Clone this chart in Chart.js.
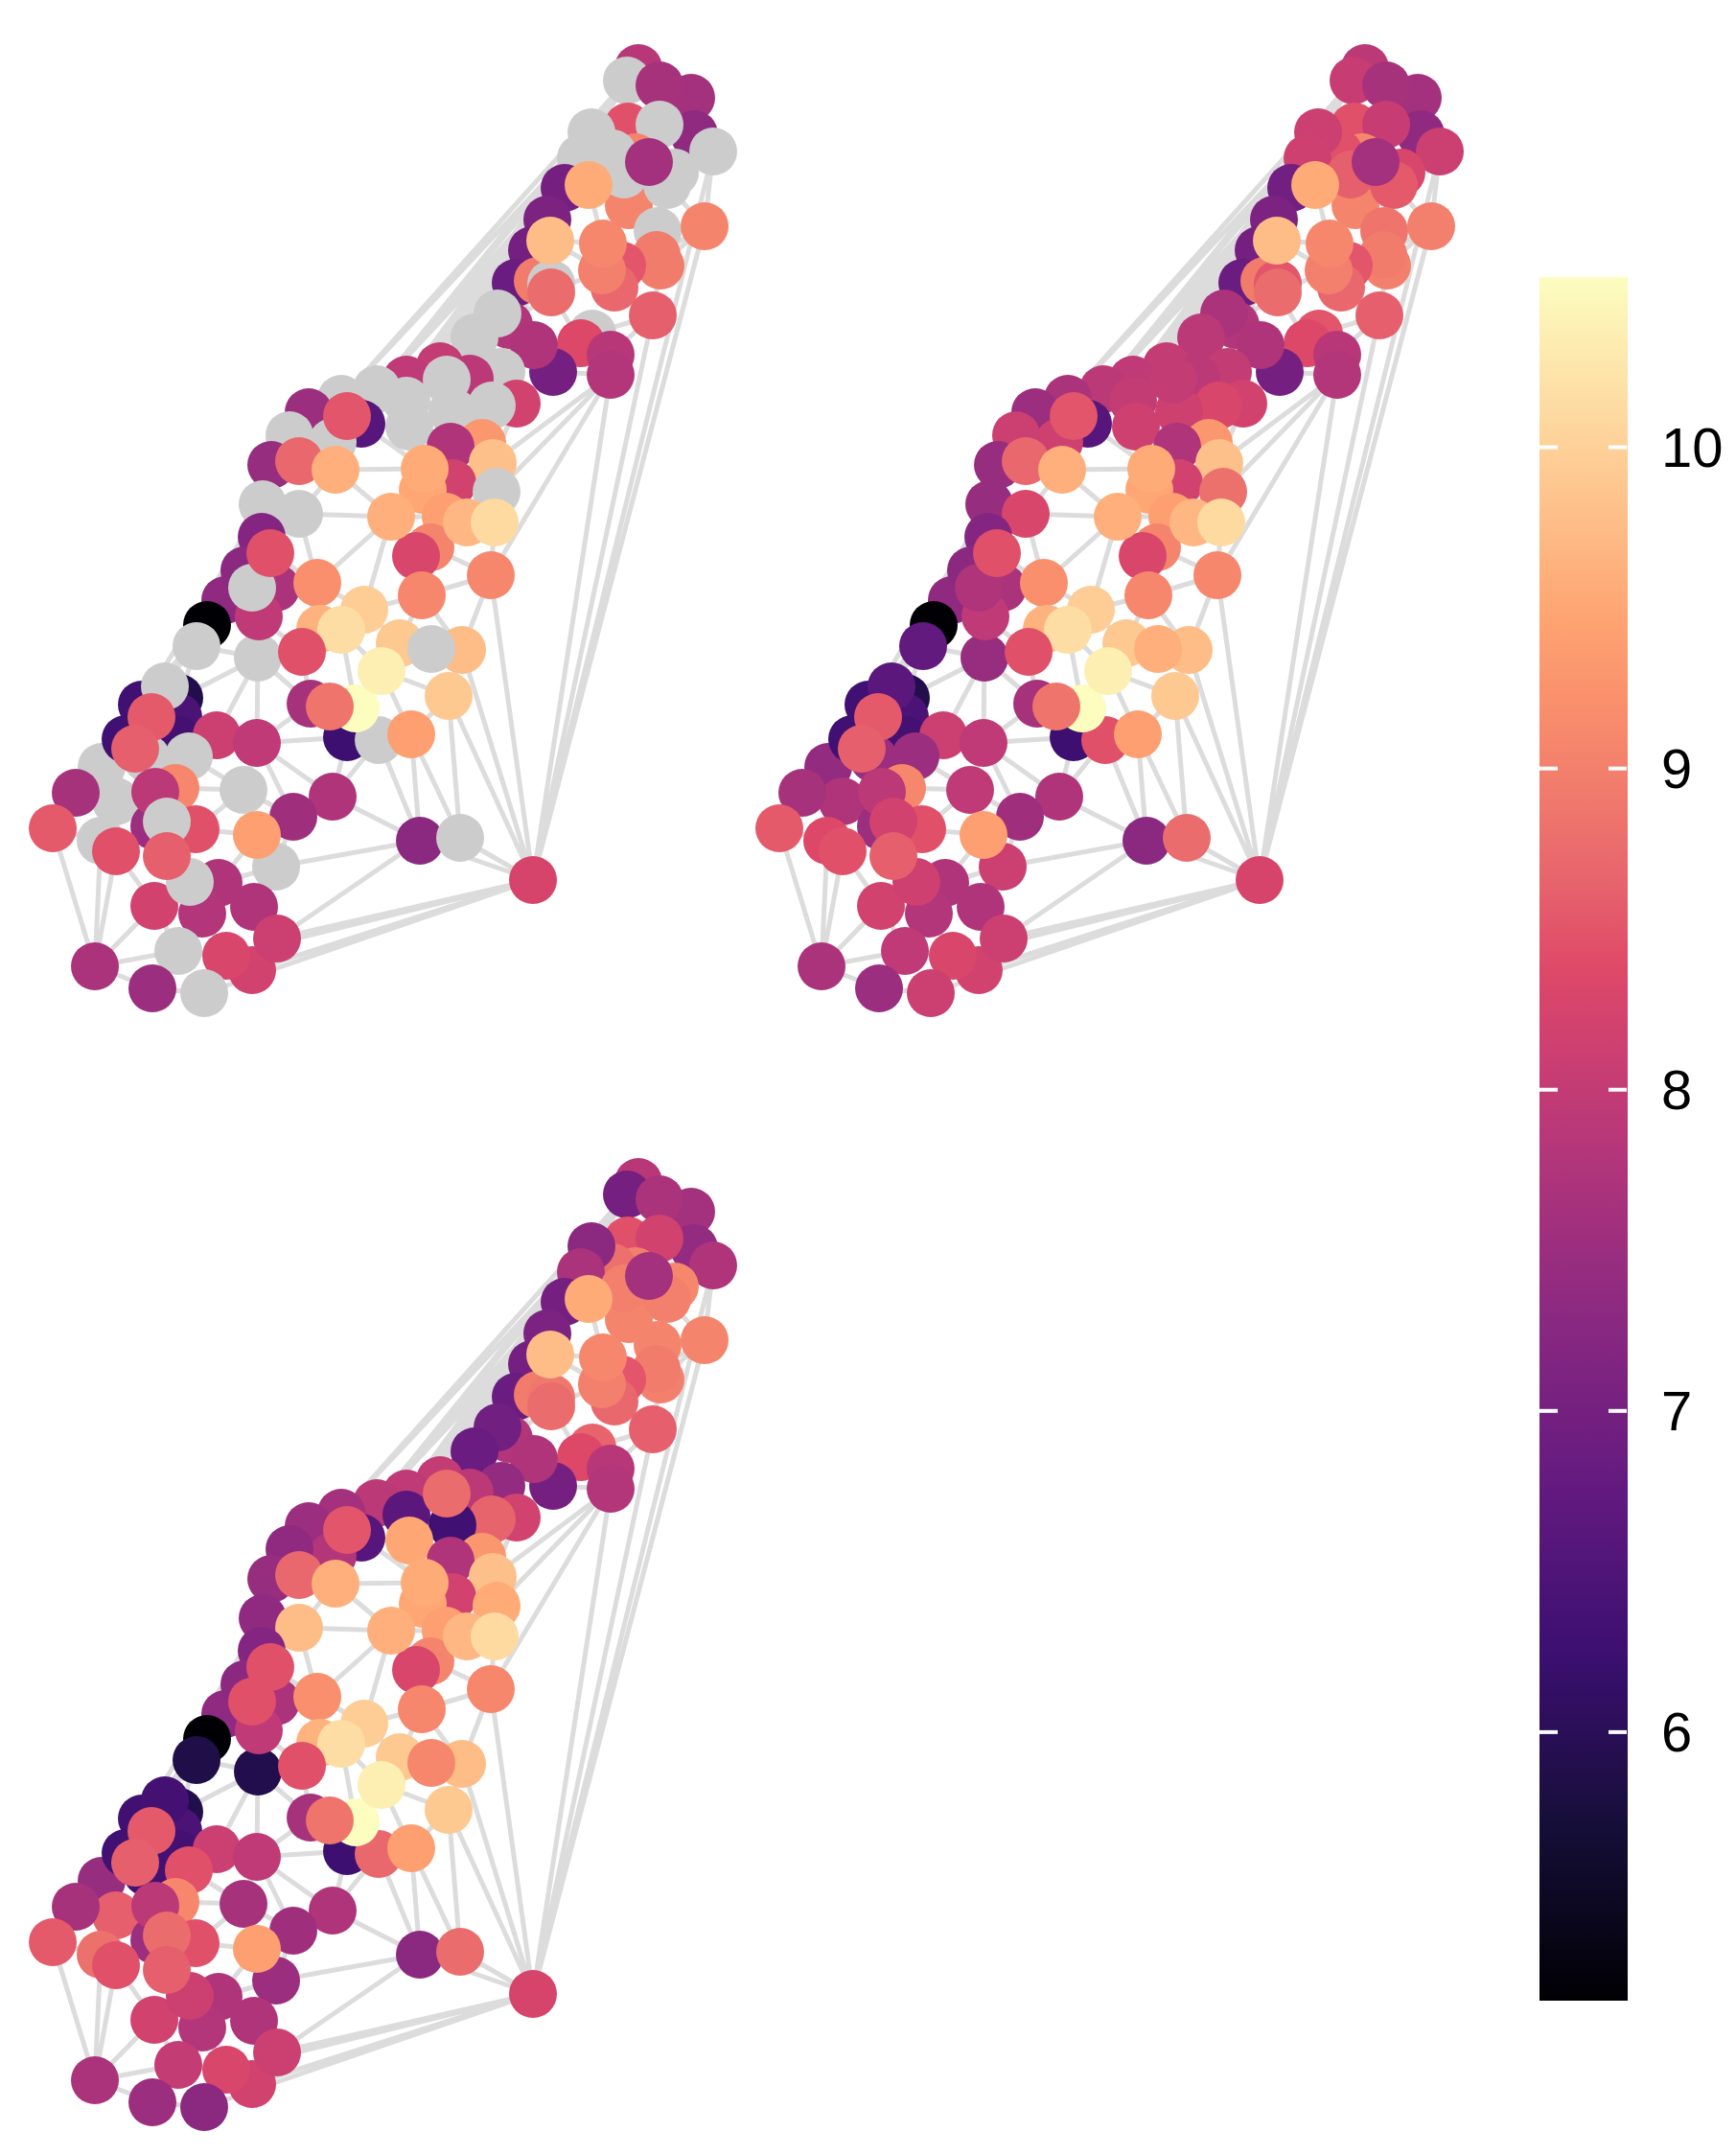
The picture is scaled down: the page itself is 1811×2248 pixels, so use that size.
<!DOCTYPE html>
<html>
<head>
<meta charset="utf-8">
<title>Network panels</title>
<script src="https://cdn.jsdelivr.net/npm/chart.js@4/dist/chart.umd.js"></script>
<style>
    html, body { margin: 0; padding: 0; background: #fff; }
    #page { position: relative; width: 1811px; height: 2248px; overflow: hidden; }
    canvas { position: absolute; }
</style>
</head>
<body>
<div id="page">
    <canvas id="panelA" width="785" height="1085" style="left:0;top:0"></canvas>
    <canvas id="panelB" width="785" height="1085" style="left:758px;top:0"></canvas>
    <canvas id="panelC" width="785" height="1085" style="left:0;top:1162px"></canvas>
    <canvas id="colorBar" width="205" height="1880" style="left:1606px;top:250px"></canvas>
</div>
<script>
// Layout of the network nodes, index 0 is unused so ids stay 1-based
const nodeX = [null,
    666,654,688,721,724,655,688,617,744,606,639,663,704,651,696,589,614,677,656,571,
    574,686,735,629,555,649,685,689,628,538,561,575,575,641,681,618,606,519,531,557,
    495,637,637,577,523,459,424,490,466,393,356,322,424,539,513,472,377,362,302,347,
    427,503,470,283,312,350,514,443,472,441,518,408,465,487,516,274,312,273,449,434,
    282,255,331,512,440,235,288,263,380,270,216,334,356,417,205,269,315,482,450,398,
    172,187,148,468,324,344,371,158,186,226,268,131,186,362,395,429,141,197,106,153,
    183,79,162,121,254,347,306,204,161,55,105,174,268,438,480,121,174,288,228,198,
    556,161,211,265,289,186,236,263,99,159,213];
const nodeY = [null,
    71,84,89,102,140,132,130,138,158,165,160,164,180,182,193,196,193,169,214,229,
    251,241,236,254,261,277,266,277,282,295,293,296,305,300,329,348,358,327,339,360,
    352,370,391,388,388,382,396,395,396,406,416,430,418,421,423,429,442,434,454,461,
    445,462,466,485,481,490,483,489,504,511,513,539,539,545,545,526,536,560,571,580,
    577,595,608,600,621,626,613,613,636,643,652,656,657,671,674,686,680,678,677,700,
    716,728,735,726,734,737,739,748,748,767,775,771,772,769,772,766,781,789,800,791,
    822,827,826,836,824,831,852,865,862,864,877,857,871,877,874,888,893,904,921,920,
    918,945,953,946,979,992,997,1012,1008,1031,1036];

// null means no value in that panel (drawn grey)
const valuesA = [null,
    7.85,null,7.65,7.6,7.35,8.45,null,null,null,null,null,9.05,null,null,null,7.0,9.55,7.6,9.05,7.1,
    9.75,null,9.05,9.1,7.0,8.5,8.95,8.95,9.0,6.85,8.95,null,8.75,8.7,8.6,null,8.35,null,7.8,7.75,
    null,7.85,7.8,7.0,null,8.0,7.95,7.9,null,null,null,7.5,null,8.2,null,null,6.6,8.5,null,null,
    null,9.3,7.75,7.45,8.7,9.6,9.8,9.55,8.2,9.5,null,9.6,9.4,9.7,10.1,null,null,7.2,9.05,8.3,
    8.45,7.3,9.2,9.1,9.1,7.35,7.7,null,9.95,7.95,5.16,9.65,10.15,9.9,null,null,8.45,9.75,null,10.35,
    null,5.9,6.3,9.9,7.65,8.85,10.53,8.55,6.45,8.1,7.95,6.3,6.35,6.25,null,9.4,8.6,null,null,null,
    9.1,7.65,7.9,null,null,7.75,7.55,8.45,7.5,8.55,null,null,9.4,7.3,null,8.45,8.6,null,7.75,null,
    8.25,8.2,7.8,7.75,8.1,null,8.3,8.2,7.7,7.5,null];
const valuesB = [null,
    7.9,8.05,7.65,7.6,7.35,8.45,8.05,8.1,8.1,8.15,8.45,9.1,8.3,8.6,8.55,6.95,9.55,7.6,9.05,7.1,
    9.75,8.85,9.0,9.1,7.0,8.5,8.95,9.0,9.0,6.85,8.95,8.5,8.75,8.7,8.6,8.5,8.35,7.7,7.8,7.75,
    7.9,7.85,7.8,7.0,8.0,8.0,7.95,7.9,8.0,7.9,7.7,7.5,8.0,8.2,8.3,8.15,6.6,8.5,8.1,8.15,
    8.15,9.3,7.75,7.45,8.7,9.6,9.8,9.55,8.2,9.5,8.8,9.6,9.4,9.7,10.1,7.45,8.3,7.2,9.05,8.3,
    8.45,7.3,9.2,9.1,9.1,7.35,7.7,7.75,9.95,7.95,5.16,9.65,10.15,9.9,6.75,7.45,8.45,9.75,9.6,10.35,
    6.65,5.9,6.3,9.9,7.65,8.85,10.53,8.55,6.45,8.1,7.95,6.3,6.35,6.25,8.45,9.4,8.6,7.5,7.4,7.5,
    9.1,7.65,7.9,7.75,7.95,7.75,7.55,8.45,7.5,8.55,8.35,8.2,9.4,7.3,8.75,8.45,8.6,8.1,7.75,8.15,
    8.25,8.2,7.8,7.75,8.1,7.95,8.3,8.2,7.7,7.5,8.1];
const valuesC = [null,
    7.85,7.0,7.7,7.6,7.4,8.45,8.2,7.3,7.75,7.7,8.8,9.0,9.1,9.0,9.0,7.0,9.55,7.6,9.05,7.1,
    9.75,9.05,9.05,9.1,7.0,8.5,8.95,9.0,9.0,6.85,8.95,8.9,8.75,8.7,8.6,8.65,8.35,6.95,7.8,7.75,
    6.85,7.85,7.8,7.0,7.4,8.0,7.95,7.9,8.75,7.9,7.6,7.5,6.65,8.2,8.65,6.3,6.6,8.5,7.35,7.8,
    9.5,9.3,7.75,7.45,8.7,9.6,9.8,9.55,8.2,9.5,9.55,9.6,9.4,9.7,10.1,7.35,9.75,7.2,9.05,8.3,
    8.45,7.3,9.2,9.1,9.1,7.35,7.7,8.45,9.95,7.95,5.16,9.65,10.15,9.9,5.85,5.9,8.45,9.75,9.1,10.35,
    6.35,5.9,6.3,9.9,7.65,8.85,10.53,8.55,6.45,8.1,7.95,6.3,6.35,6.25,8.7,9.4,8.6,8.45,7.45,6.35,
    9.1,7.65,7.9,8.6,7.65,7.75,7.55,8.45,7.5,8.55,8.8,8.75,9.4,7.3,8.75,8.45,8.6,7.5,7.75,8.1,
    8.25,8.2,7.8,7.75,8.1,8.0,8.3,8.2,7.7,7.5,7.3];

// Order the nodes are painted in, later ones sit on top
const drawOrder = [
    1,2,4,3,5,6,7,12,11,8,10,9,13,19,14,15,16,20,22,28,27,25,30,31,32,33,26,34,29,24,23,21,17,18,
    35,36,37,39,38,41,44,40,42,43,46,47,50,51,45,48,54,55,53,56,49,52,57,60,61,58,59,64,65,62,63,
    66,67,69,70,68,71,73,79,80,74,75,72,76,77,78,86,82,87,96,90,88,81,83,84,85,89,92,93,94,98,99,
    97,91,95,102,103,109,113,119,120,124,112,101,108,117,110,111,114,115,107,105,106,116,104,100,
    118,121,129,122,123,128,130,131,139,143,142,140,132,136,137,125,126,127,138,133,134,135,144,
    146,148,147,145,149,150,151,141];

const edges = [
    [2,51],[2,50],[8,50],[8,47],[10,50],[10,47],[16,46],[20,46],[25,46],[30,41],[30,46],[25,41],[20,41],[10,46],[8,51],[2,8],[2,10],[16,47],
    [2,47],[8,46],[10,45],[16,50],[20,47],[20,45],[25,47],[25,45],[30,47],[30,45],[16,38],[16,41],
    [51,52],[52,59],[59,64],[64,76],[76,78],[78,86],[78,101],[82,101],[86,101],[86,103],[76,101],[76,103],
    [4,9],[9,23],[9,15],[23,15],[23,27],[23,28],[9,141],[23,141],[35,141],[43,141],[84,141],[98,141],[104,141],[135,141],[134,141],[145,141],[147,141],[148,141],[151,141],
    [43,67],[43,71],[43,84],[84,75],[84,79],[84,85],[84,98],[85,98],[85,89],[85,80],[72,83],[72,89],[77,83],[66,68],[66,72],[72,77],[57,68],[66,77],
    [17,24],[21,24],[21,29],[33,29],[33,39],[33,37],[36,35],[35,42],[35,28],[37,40],[40,44],[44,42],[44,43],[42,43],[54,67],[54,62],[67,71],[71,75],[75,74],
    [65,66],[66,60],[68,61],[68,63],[68,70],[70,72],[72,73],[69,71],[29,34],[34,35],[24,19],[19,17],[19,22],[22,27],[28,34],
    [79,80],[80,85],[79,84],[83,92],[83,89],[83,97],[81,83],[87,83],[89,94],[89,93],[94,85],[98,104],[98,94],[100,104],[100,116],[104,116],[93,100],[93,107],
    [97,105],[96,105],[96,102],[96,111],[96,110],[96,97],[95,96],[95,91],[95,102],[90,97],[90,96],[111,105],[111,114],[111,126],[111,127],[126,114],[126,115],
    [126,134],[115,134],[116,134],[116,135],[104,135],[134,138],[134,145],[149,130],[149,131],[149,136],[149,142],[149,146],[149,150],[136,142],[130,122],[130,131],
    [121,125],[118,125],[128,125],[128,133],[133,138],[133,139],[138,139],[127,138],[125,111],[125,127],[138,144],[144,145],[143,147],[146,147],[150,151],[151,147],
    [146,142],[146,143],[142,143],[105,114],[101,102],[102,110],[114,115],[115,116],[139,143],[140,137],[142,136]
];

const barMin = 5.164;
const barMax = 10.53;
const barTicks = [6, 7, 8, 9, 10];

// Colour ramp
const rampAt = [0, 0.1, 0.2, 0.3, 0.4, 0.5, 0.55, 0.6, 0.65, 0.7, 0.75, 0.8, 0.9, 1];
const rampColors = ['#000004','#150E38','#3B0F70','#641A80','#8C2981','#B73779','#CC3F71','#DF4968','#E7646D','#F07A6C','#F98E6C','#FEA371','#FED098','#FCFDBF'];
const missingColor = '#CCCCCC';
const edgeColor = '#DCDCDC';

function hexToRgb(hex) {
    return [1, 3, 5].map(i => parseInt(hex.slice(i, i + 2), 16));
}

function magma(value) {
    const t = Math.min(1, Math.max(0, (value - barMin) / (barMax - barMin)));
    let i = 0;
    while (i < rampAt.length - 2 && t > rampAt[i + 1]) i++;
    const f = (t - rampAt[i]) / (rampAt[i + 1] - rampAt[i]);
    const a = hexToRgb(rampColors[i]);
    const b = hexToRgb(rampColors[i + 1]);
    const c = a.map((v, k) => Math.round(v + (b[k] - v) * f));
    return `rgb(${c[0]}, ${c[1]}, ${c[2]})`;
}

function drawPanel(canvasId, values) {
    // Edges go in one dataset, a null point breaks the path between them
    const edgePoints = [];
    edges.forEach(([from, to]) => {
        edgePoints.push({ x: nodeX[from], y: nodeY[from] });
        edgePoints.push({ x: nodeX[to], y: nodeY[to] });
        edgePoints.push({ x: null, y: null });
    });

    return new Chart(document.getElementById(canvasId), {
        type: 'scatter',
        data: {
            datasets: [{
                data: edgePoints,
                showLine: true,
                spanGaps: false,
                borderColor: edgeColor,
                borderWidth: 5,
                pointRadius: 0,
                order: 2
            }, {
                data: drawOrder.map(id => ({ x: nodeX[id], y: nodeY[id] })),
                backgroundColor: drawOrder.map(id => values[id] === null ? missingColor : magma(values[id])),
                borderWidth: 0,
                pointRadius: 25,
                order: 1
            }]
        },
        options: {
            responsive: false,
            animation: false,
            events: [],
            layout: { autoPadding: false },
            plugins: {
                legend: { display: false },
                tooltip: { enabled: false }
            },
            scales: {
                x: { display: false, min: 0, max: 785 },
                y: { display: false, min: 0, max: 1085, reverse: true }
            }
        }
    });
}

// White notches at both edges of the colour bar
const barNotches = {
    id: 'barNotches',
    afterDatasetsDraw(chart) {
        const { ctx, chartArea, scales } = chart;
        ctx.save();
        ctx.fillStyle = '#fff';
        scales.y.ticks.forEach(tick => {
            const y = scales.y.getPixelForValue(tick.value);
            ctx.fillRect(chartArea.left, y - 2, 19, 4);
            ctx.fillRect(chartArea.right - 20, y - 2, 19, 4);
        });
        ctx.restore();
    }
};

function drawColorBar() {
    return new Chart(document.getElementById('colorBar'), {
        type: 'bar',
        data: {
            labels: [''],
            datasets: [{
                data: [[barMin, barMax]],
                barPercentage: 1,
                categoryPercentage: 1,
                borderWidth: 0,
                borderSkipped: false,
                backgroundColor(context) {
                    const { chart } = context;
                    if (!chart.chartArea) return rampColors[5];
                    const gradient = chart.ctx.createLinearGradient(0, chart.chartArea.bottom, 0, chart.chartArea.top);
                    rampColors.forEach((color, i) => gradient.addColorStop(rampAt[i], color));
                    return gradient;
                }
            }]
        },
        options: {
            responsive: false,
            animation: false,
            events: [],
            layout: { autoPadding: false, padding: { top: 39, bottom: 43 } },
            plugins: {
                legend: { display: false },
                tooltip: { enabled: false }
            },
            scales: {
                x: { display: false },
                y: {
                    position: 'right',
                    min: barMin,
                    max: barMax,
                    border: { display: false },
                    grid: { display: false, drawTicks: false },
                    afterBuildTicks(scale) {
                        scale.ticks = barTicks.map(value => ({ value }));
                    },
                    afterFit(scale) {
                        scale.width = 113;
                        scale.paddingTop = 0;
                        scale.paddingBottom = 0;
                    },
                    ticks: {
                        padding: 35,
                        labelOffset: 4,
                        color: '#000',
                        autoSkip: false,
                        font: { family: '"Liberation Sans"', size: 58 }
                    }
                }
            }
        },
        plugins: [barNotches]
    });
}

drawPanel('panelA', valuesA);
drawPanel('panelB', valuesB);
drawPanel('panelC', valuesC);
drawColorBar();
</script>
</body>
</html>
